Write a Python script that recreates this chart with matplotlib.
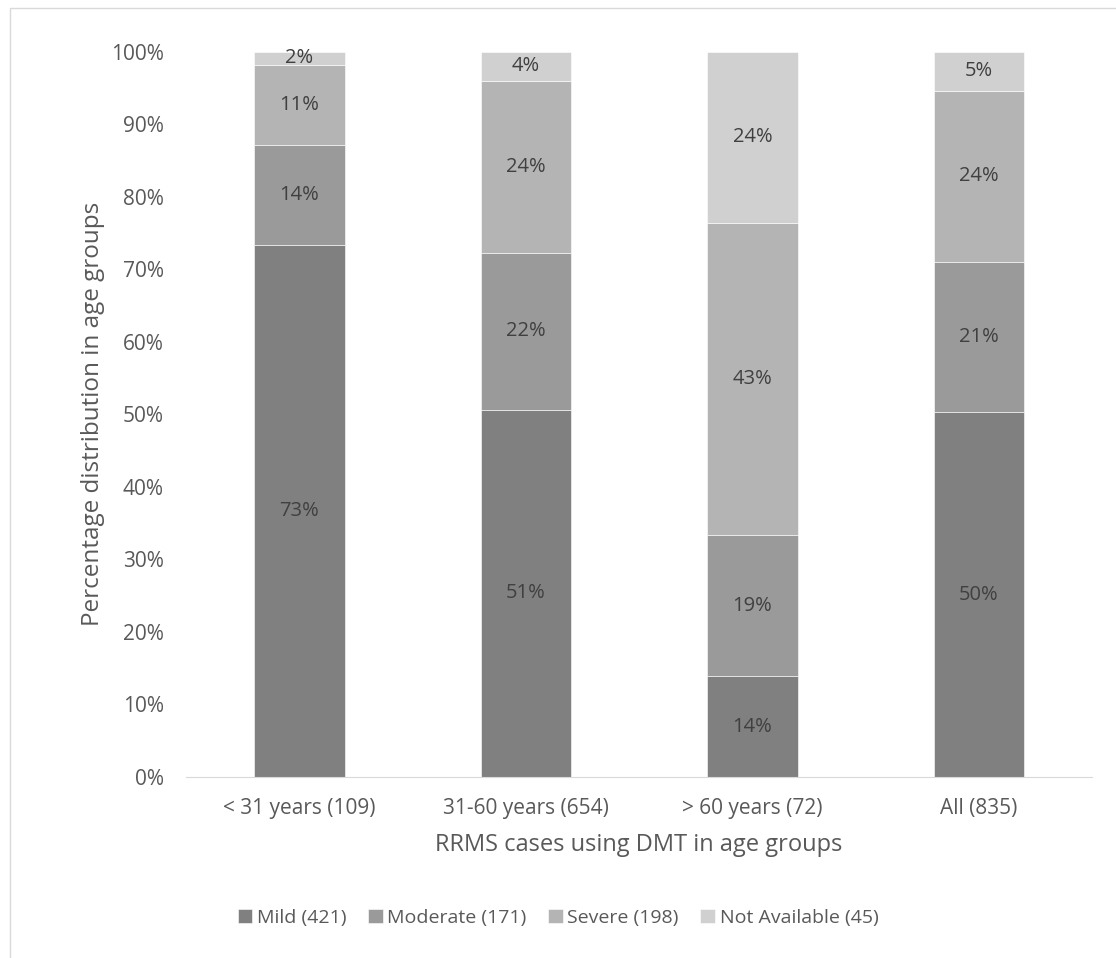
import matplotlib.pyplot as plt
import numpy as np
from matplotlib.patches import Rectangle

groups = ['< 31 years (109)', '31-60 years (654)', '> 60 years (72)', 'All (835)']
series = ['Mild (421)', 'Moderate (171)', 'Severe (198)', 'Not Available (45)']
mild = [73.4, 50.6, 13.9, 50.3]
moderate = [13.8, 21.7, 19.4, 20.7]
severe = [11.0, 23.7, 43.1, 23.6]
not_available = [1.8, 4.0, 23.6, 5.4]
colors = ['#808080', '#9a9a9a', '#b4b4b4', '#d0d0d0']

plt.rcParams['font.family'] = ['Open Sans', 'DejaVu Sans']

fig = plt.figure(figsize=(11.16, 9.58), dpi=100)
ax = fig.add_axes([0.1667, 0.189, 0.812, 0.757])

x = np.arange(len(groups))
bottom = np.zeros(len(groups))
for name, vals, c in zip(series, [mild, moderate, severe, not_available], colors):
    vals = np.array(vals)
    ax.bar(x, vals, 0.4, bottom=bottom, color=c, edgecolor='white', linewidth=0.4, label=name)
    for xi, b, v in zip(x, bottom, vals):
        ax.text(xi, b + v / 2, '%d%%' % round(v), ha='center', va='center',
                fontsize=14.5, color='#404040')
    bottom += vals

ax.set_xlim(-0.5, 3.5)
ax.set_ylim(0, 100)
ax.set_yticks(range(0, 101, 10))
ax.set_yticklabels(['%d%%' % v for v in range(0, 101, 10)])
ax.set_xticks(x)
ax.set_xticklabels(groups)
ax.tick_params(length=0, labelsize=15, colors='#595959')
ax.tick_params(axis='x', pad=15)
ax.tick_params(axis='y', pad=16)
for s in ['top', 'right', 'left']:
    ax.spines[s].set_visible(False)
ax.spines['bottom'].set_color('#d9d9d9')
ax.set_xlabel('RRMS cases using DMT in age groups', fontsize=17, color='#595959', labelpad=10)
ax.set_ylabel('Percentage distribution in age groups', fontsize=17.5, color='#595959', labelpad=4)

leg = fig.legend(loc='center', bbox_to_anchor=(0.5, 0.042), ncol=4, frameon=False,
                 fontsize=14, handlelength=0.75, handleheight=0.75, handletextpad=0.25,
                 columnspacing=1.1)
for t in leg.get_texts():
    t.set_color('#595959')

fig.patches.append(Rectangle((0.009, -0.01), 1.0, 1.002, transform=fig.transFigure,
                             fill=False, edgecolor='#d9d9d9', linewidth=1))

fig.savefig('out.png', dpi=100)
